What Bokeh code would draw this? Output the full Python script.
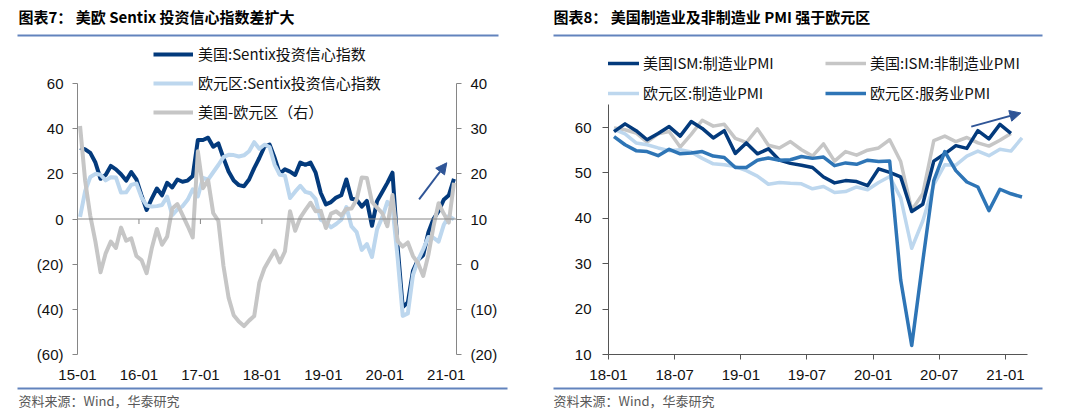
from bokeh.plotting import figure
from bokeh.layouts import column, row
from bokeh.models import Range1d, LinearAxis, FixedTicker, Span, Legend, Arrow, NormalHead
from bokeh.core.properties import value
from bokeh.embed import file_html
from bokeh.resources import INLINE

# ---------------- data: chart 7 (monthly, 2015-01 .. 2021-02) ----------------
US_SENTIX = [
    31.5, 30.8, 29.3, 25.0, 17.8, 19.5, 23.5, 22.0, 19.8, 17.0, 20.8, 17.5,
    10.5, 4.0, 9.0, 13.5, 10.5, 16.0, 14.0, 17.5, 16.5, 17.0, 19.0, 35.0,
    35.0, 36.0, 32.0, 33.5, 27.0, 21.0, 17.0, 15.0, 14.5, 17.5, 22.5, 27.0,
    32.0, 33.0, 27.0, 20.0, 22.0, 21.0, 19.5, 25.0, 24.0, 25.0, 20.5, 11.5,
    6.5, 7.5, 9.5, 10.5, 17.5, 9.0, 8.5, 5.5, 8.0, -3.0, 8.0, 12.0,
    16.0, 20.5, -12.0, -39.0, -37.0, -23.0, -18.0, -16.0, -6.0, 0.0, 3.5, 8.5,
    10.5, 17.8,
]
EZ_SENTIX = [
    0.9, 12.4, 18.6, 20.0, 19.6, 17.1, 18.5, 18.4, 11.7, 11.8, 15.1, 15.7,
    9.6, 6.0, 5.5, 5.7, 6.2, 9.9, 1.7, 4.2, 5.6, 8.5, 13.1, 10.0,
    18.2, 17.4, 20.7, 23.9, 27.4, 28.4, 28.3, 27.7, 28.2, 30.0, 34.0, 31.1,
    32.9, 31.9, 24.0, 19.6, 19.2, 9.3, 12.1, 14.7, 12.0, 11.4, 8.8, -0.3,
    -1.5, -3.7, -2.2, -0.3, 5.3, -3.3, -5.8, -13.7, -11.1, -16.8, -4.5, 0.7,
    7.6, 5.2, -17.1, -42.9, -41.8, -24.8, -18.2, -13.4, -8.0, -8.3, -10.0, -2.7,
    1.3, -0.2,
]
US_MINUS_EZ = [
    30.6, 18.4, 10.7, 5.0, -1.8, 2.4, 5.0, 3.6, 8.1, 5.2, 5.7, 1.8,
    0.9, -2.0, 3.5, 7.8, 4.3, 6.1, 12.3, 13.3, 10.9, 8.5, 5.9, 25.0,
    16.8, 18.6, 11.3, 9.6, -0.4, -7.4, -11.3, -12.7, -13.7, -12.5, -11.5, -4.1,
    -0.9, 1.1, 3.0, 0.4, 2.8, 11.7, 7.4, 10.3, 12.0, 13.6, 11.7, 11.8,
    8.0, 11.2, 11.7, 10.8, 12.2, 12.3, 14.3, 19.2, 19.1, 13.8, 12.5, 11.3,
    8.4, 15.3, 5.1, 3.9, 4.8, 1.8, 0.2, -2.6, 2.0, 8.3, 13.5, 11.2,
    9.2, 18.0,
]
X7_TICK_LABELS = ["15-01", "16-01", "17-01", "18-01", "19-01", "20-01", "21-01"]
Y7_LEFT_LABELS = ["(60)", "(40)", "(20)", "0", "20", "40", "60"]
Y7_RIGHT_LABELS = ["(20)", "(10)", "0", "10", "20", "30", "40"]
LEG7 = ["美国:Sentix投资信心指数", "欧元区:Sentix投资信心指数", "美国-欧元区（右）"]

# ---------------- data: chart 8 (monthly, from 2018-01) ----------------
US_ISM_MFG = [
    59.1, 60.8, 59.3, 57.3, 58.7, 60.2, 58.1, 61.3, 59.8, 57.7, 59.3, 54.3,
    56.6, 54.2, 55.3, 52.8, 52.1, 51.7, 51.2, 49.1, 47.8, 48.3, 48.1, 47.2,
    50.9, 50.1, 49.1, 41.5, 43.1, 52.6, 54.2, 56.0, 55.4, 59.3, 57.5, 60.7,
    58.7,
]
US_ISM_NONMFG = [
    59.9, 59.5, 58.8, 56.8, 58.6, 59.1, 55.7, 58.5, 61.6, 60.3, 60.7, 57.6,
    56.7, 59.7, 56.1, 55.5, 56.9, 55.1, 53.7, 56.4, 52.6, 54.7, 53.9, 55.0,
    55.5, 57.3, 52.5, 41.8, 45.4, 57.1, 58.1, 56.9, 57.8, 56.6, 55.9, 57.2,
    58.7,
]
EZ_MFG = [
    59.6, 58.6, 56.6, 56.2, 55.5, 54.9, 55.1, 54.6, 53.2, 52.0, 51.8, 51.4,
    50.5, 49.3, 47.5, 47.9, 47.7, 47.6, 46.5, 47.0, 45.7, 45.9, 46.9, 46.3,
    47.9, 49.2, 44.5, 33.4, 39.4, 47.4, 51.8, 51.7, 53.7, 54.8, 53.8, 55.2,
    54.8, 57.7,
]
EZ_SERV = [
    58.0, 56.2, 54.9, 54.7, 53.8, 55.2, 54.2, 54.4, 54.7, 53.7, 53.4, 51.2,
    51.2, 52.8, 53.3, 52.8, 52.9, 53.6, 53.2, 53.5, 51.6, 52.2, 51.9, 52.8,
    52.5, 52.6, 26.4, 12.0, 30.5, 48.3, 54.7, 50.5, 48.0, 46.9, 41.7, 46.4,
    45.4, 44.7,
]
X8_TICK_LABELS = ["18-01", "18-07", "19-01", "19-07", "20-01", "20-07", "21-01"]
Y8_LABELS = ["10", "20", "30", "40", "50", "60"]
LEG8 = ["美国ISM:制造业PMI", "美国:ISM:非制造业PMI", "欧元区:制造业PMI", "欧元区:服务业PMI"]

TITLE7 = "图表7：  美欧 Sentix 投资信心指数差扩大"
TITLE8 = "图表8：  美国制造业及非制造业 PMI 强于欧元区"
SOURCE = "资料来源：Wind，华泰研究"

# ---------------- styling ----------------
CJK = "Noto Sans CJK SC"
LAT = "Liberation Sans"
NAVY = "#033a7c"
LIGHT = "#bdd7ee"
GRAY = "#c6c6c6"
MID = "#2e75b6"
RULE = "#6283bd"
ARROW = "#2f5597"

PW = 540
TH, CH, FH = 40, 346, 27
TOP, BOT = 0, 32
FRAME_H = CH - TOP - BOT
FRAME_TOP = TH + TOP          # page y of the frame top


def deco(height):
    p = figure(width=PW, height=height, x_range=Range1d(0, PW), y_range=Range1d(height, 0),
               toolbar_location=None, output_backend="svg", min_border=0,
               x_axis_type=None, y_axis_type=None, outline_line_color=None, title=None)
    p.grid.visible = False
    return p


def title_fig(text, tx, x0, x1):
    p = deco(TH)
    p.text(x=[tx], y=[16], text=[text], text_font=value(CJK), text_font_style="bold",
           text_font_size="15px", text_baseline="middle", text_color="#000000")
    p.segment(x0=[x0], y0=[35], x1=[x1], y1=[35], line_color=RULE, line_width=2)
    return p


def foot_fig(tx, x0, x1):
    p = deco(FH)
    p.segment(x0=[x0], y0=[2], x1=[x1], y1=[2], line_color=RULE, line_width=2)
    p.text(x=[tx], y=[14], text=[SOURCE], text_font=value(CJK), text_font_size="13px",
           text_baseline="middle", text_color="#595959")
    return p


def style_axis(ax, color, tick_out, standoff):
    ax.axis_line_color = color
    ax.major_tick_line_color = color
    ax.major_tick_out = tick_out
    ax.major_tick_in = 0
    ax.minor_tick_line_color = None
    ax.major_label_text_font = LAT
    ax.major_label_text_font_size = "15px"
    ax.major_label_text_color = "#111111"
    ax.major_label_standoff = standoff


# ---------------- chart 7 ----------------
px7 = 271 / 120.0               # pixels per unit on the left axis (60 sits at page y 83)
top7 = 60 + (83 - FRAME_TOP) / px7
p7 = figure(width=PW, height=CH, x_range=Range1d(0, 74), y_range=Range1d(-60, top7),
            toolbar_location=None, output_backend="svg", title=None,
            min_border_left=77, min_border_right=84, min_border_top=TOP, min_border_bottom=BOT,
            outline_line_color=None)
p7.grid.visible = False
p7.extra_y_ranges = {"r": Range1d(-20, top7 / 2 + 10)}

yt7 = [-60 + 20 * k for k in range(len(Y7_LEFT_LABELS))]
ly = p7.yaxis[0]
ly.ticker = FixedTicker(ticks=yt7)
ly.major_label_overrides = dict(zip(yt7, Y7_LEFT_LABELS))
ly.bounds = (-60, 60)
style_axis(ly, "#868686", 5, 9)

rt7 = [-20 + 10 * k for k in range(len(Y7_RIGHT_LABELS))]
ry = LinearAxis(y_range_name="r", ticker=FixedTicker(ticks=rt7))
ry.major_label_overrides = dict(zip(rt7, Y7_RIGHT_LABELS))
ry.bounds = (-20, 40)
style_axis(ry, "#868686", 5, 9)
p7.add_layout(ry, "right")

xt7 = [12 * k for k in range(len(X7_TICK_LABELS))]
bx = p7.xaxis[0]
bx.ticker = FixedTicker(ticks=xt7)
bx.major_label_overrides = dict(zip(xt7, X7_TICK_LABELS))
style_axis(bx, None, 0, 15)
bx.axis_line_color = None
bx.major_tick_line_color = None

p7.add_layout(Span(location=0, dimension="width", line_color="#868686", line_width=1))
p7.segment(x0=xt7[1:], y0=[0] * (len(xt7) - 1), x1=xt7[1:], y1=[-5 / px7] * (len(xt7) - 1),
           line_color="#868686", line_width=1)

x7 = [i + 0.5 for i in range(len(US_SENTIX))]
r_us = p7.line(x7, US_SENTIX, line_color=NAVY, line_width=4, line_join="round")
r_ez = p7.line(x7, EZ_SENTIX, line_color=LIGHT, line_width=4, line_join="round")
r_gap = p7.line(x7, US_MINUS_EZ, line_color=GRAY, line_width=4, line_join="round", y_range_name="r")

p7.add_layout(Arrow(end=NormalHead(size=11, fill_color=ARROW, line_color=ARROW),
                    x_start=66.7, y_start=8.7, x_end=72.1, y_end=24.9,
                    line_color=ARROW, line_width=2))

leg7_h = 3 * 20 + 2 * 8.5
leg7 = Legend(items=[(LEG7[0], [r_us]), (LEG7[1], [r_ez]), (LEG7[2], [r_gap])],
              location=(76, FRAME_H - (45 - FRAME_TOP) - leg7_h), orientation="vertical",
              padding=0, margin=0, spacing=8, glyph_width=40, glyph_height=20,
              label_height=20, label_standoff=5, label_text_font=CJK,
              label_text_font_size="15px", label_text_color="#111111",
              border_line_color=None, background_fill_alpha=0)
p7.add_layout(leg7)

# ---------------- chart 8 ----------------
px8 = 227 / 50.0                # 60 sits at page y 127
top8 = 60 + (127 - FRAME_TOP) / px8
p8 = figure(width=PW, height=CH, x_range=Range1d(0, 38), y_range=Range1d(10, top8),
            toolbar_location=None, output_backend="svg", title=None,
            min_border_left=68, min_border_right=53, min_border_top=TOP, min_border_bottom=BOT,
            outline_line_color=None)
p8.grid.visible = False

yt8 = [10 + 10 * k for k in range(len(Y8_LABELS))]
ly8 = p8.yaxis[0]
ly8.ticker = FixedTicker(ticks=yt8)
ly8.major_label_overrides = dict(zip(yt8, Y8_LABELS))
ly8.bounds = (10, 65)
style_axis(ly8, "#555555", 6, 11)

xt8 = [6 * k for k in range(len(X8_TICK_LABELS))]
bx8 = p8.xaxis[0]
bx8.ticker = FixedTicker(ticks=xt8)
bx8.major_label_overrides = dict(zip(xt8, X8_TICK_LABELS))
style_axis(bx8, "#555555", 5, 10)

x8u = [i + 0.5 for i in range(len(US_ISM_MFG))]
x8e = [i + 0.5 for i in range(len(EZ_MFG))]
r_nm = p8.line(x8u, US_ISM_NONMFG, line_color=GRAY, line_width=3.5, line_join="round")
r_em = p8.line(x8e, EZ_MFG, line_color=LIGHT, line_width=3.5, line_join="round")
r_um = p8.line(x8u, US_ISM_MFG, line_color=NAVY, line_width=3.5, line_join="round")
r_es = p8.line(x8e, EZ_SERV, line_color=MID, line_width=3.5, line_join="round")

p8.add_layout(Arrow(end=NormalHead(size=11, fill_color=ARROW, line_color=ARROW),
                    x_start=32.9, y_start=60.2, x_end=37.4, y_end=63.2,
                    line_color=ARROW, line_width=2))

leg8_h = 2 * 20 + 9
leg8_y = FRAME_H - (54 - FRAME_TOP) - leg8_h
common = dict(orientation="vertical", padding=0, margin=0, spacing=9, glyph_width=41,
              glyph_height=20, label_height=20, label_standoff=4, label_text_font=CJK,
              label_text_font_size="15px", label_text_color="#111111",
              border_line_color=None, background_fill_alpha=0)
leg8a = Legend(items=[(LEG8[0], [r_um]), (LEG8[2], [r_em])], location=(-10, leg8_y), **common)
leg8b = Legend(items=[(LEG8[1], [r_nm]), (LEG8[3], [r_es])], location=(217, leg8_y), **common)
p8.add_layout(leg8a)
p8.add_layout(leg8b)

# ---------------- page ----------------
layout = column(
    row(title_fig(TITLE7, 18, 17, 498), title_fig(TITLE8, 13, 13, 502)),
    row(p7, p8),
    row(foot_fig(18, 17, 507), foot_fig(13, 13, 502)),
)

open("out.html", "w").write(file_html(layout, INLINE))
